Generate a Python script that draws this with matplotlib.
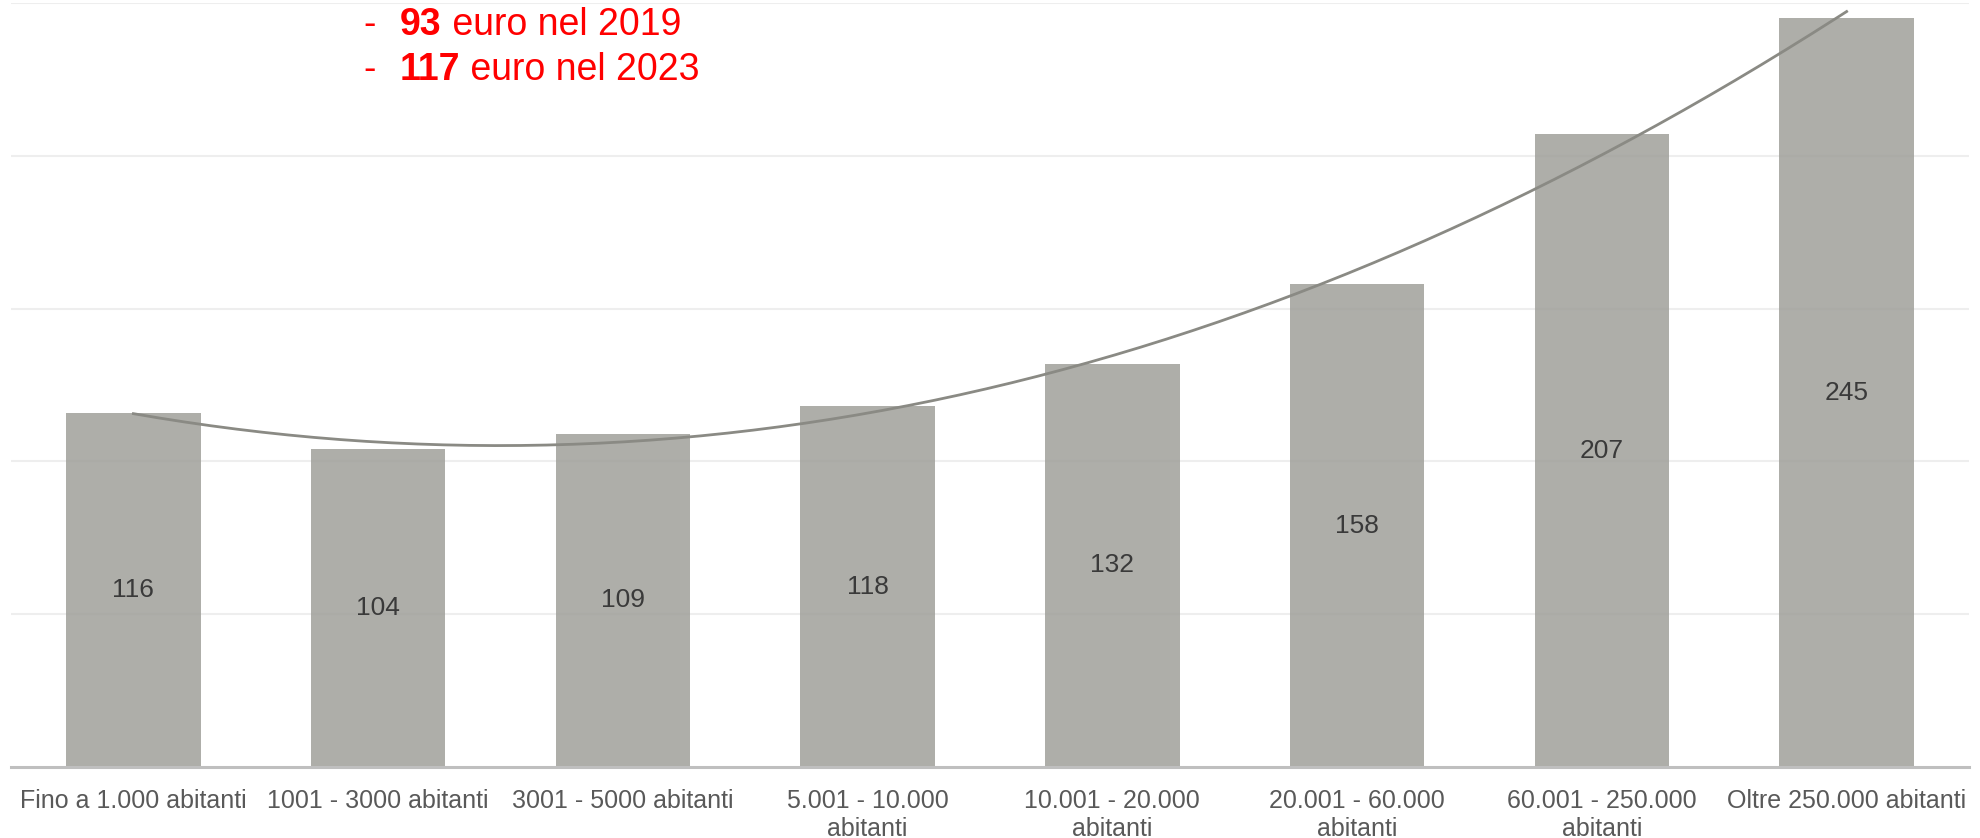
import numpy as np
import matplotlib
matplotlib.use('Agg')
import matplotlib.pyplot as plt

# --- Dati: spesa per classe demografica ---
classi = ['Fino a 1.000 abitanti', '1001 - 3000 abitanti', '3001 - 5000 abitanti',
          '5.001 - 10.000\nabitanti', '10.001 - 20.000\nabitanti',
          '20.001 - 60.000\nabitanti', '60.001 - 250.000\nabitanti',
          'Oltre 250.000 abitanti']
valori = [116, 104, 109, 118, 132, 158, 207, 245]

righe_nota = [('93', ' euro nel 2019'), ('117', ' euro nel 2023')]

plt.rcParams['font.family'] = ['Liberation Sans', 'DejaVu Sans']

fig = plt.figure(figsize=(19.8, 8.38), dpi=100)
ax = fig.add_axes([11 / 1980, 1 - 767 / 838, 1958 / 1980, 764 / 838])

x = np.arange(len(valori))
ax.bar(x, valori, width=0.55, color='#9c9c96', alpha=0.82, zorder=2)

# etichette al centro delle barre
for xi, v in zip(x, valori):
    ax.text(xi, v / 2, str(v), ha='center', va='center',
            fontsize=19, color='#3a3a3a', zorder=5)

# linea di tendenza polinomiale (2° grado)
coef = np.polyfit(x, valori, 2)
xs = np.linspace(x[0], x[-1], 200)
ax.plot(xs, np.polyval(coef, xs), color='#8a8a84', lw=2, zorder=4)

ax.set_xlim(-0.5, len(valori) - 0.5)
ax.set_ylim(0, 250)
ax.set_yticks([50, 100, 150, 200, 250])
ax.yaxis.grid(True, color='#eeeeee', lw=1.5, zorder=0)
ax.set_axisbelow(True)
ax.tick_params(axis='y', left=False, labelleft=False)
ax.set_xticks(x)
ax.set_xticklabels(classi, fontsize=18, color='#595959', linespacing=1.2)
ax.tick_params(axis='x', length=0, pad=16)
for s in ['top', 'left', 'right']:
    ax.spines[s].set_visible(False)
ax.spines['bottom'].set_color('#bfbfbf')
ax.spines['bottom'].set_linewidth(2.2)
ax.spines['bottom'].set_zorder(6)

# nota in rosso in alto
for (num, resto), yb in zip(righe_nota, [1 - 35 / 838, 1 - 80 / 838]):
    fig.text(363 / 1980, yb, '-', color='red', fontsize=27, va='baseline')
    t = fig.text(400 / 1980, yb, num, color='red', fontsize=27,
                 fontweight='bold', va='baseline')
    ax.annotate(resto, xy=(1, 0), xycoords=t, va='bottom', ha='left',
                color='red', fontsize=27, annotation_clip=False)

fig.savefig('out.png', dpi=100)
